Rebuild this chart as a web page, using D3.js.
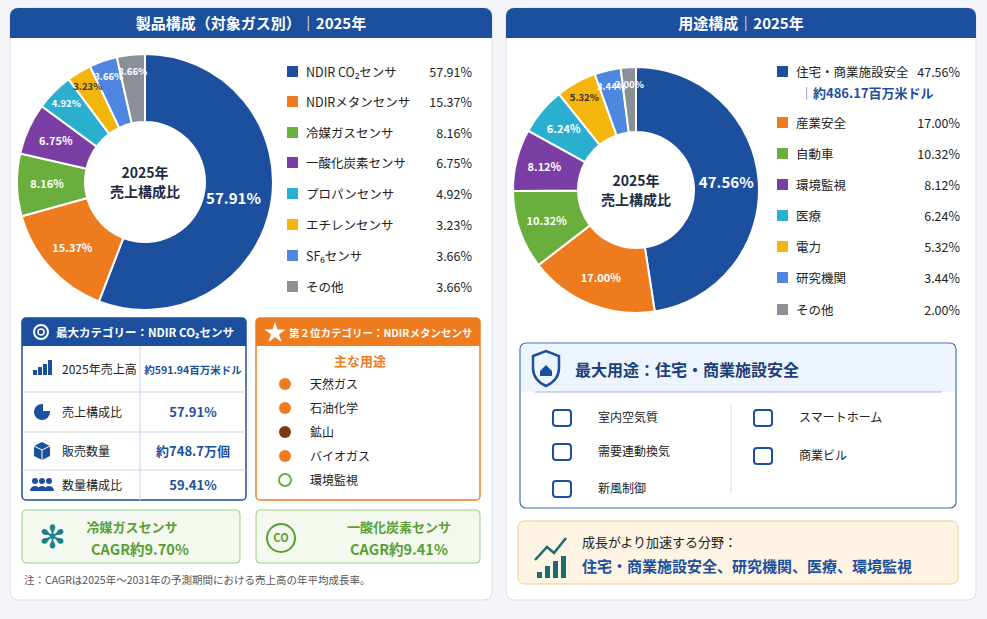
<!DOCTYPE html>
<html><head><meta charset="utf-8">
<script src="https://cdn.jsdelivr.net/npm/d3@7/dist/d3.min.js"></script>
<style>body{margin:0;background:#f3f5f8;font-family:"Noto Sans CJK JP","Noto Sans",sans-serif}</style>
</head><body><svg id="c" width="987" height="619"></svg>
<script>
const gasCats=["NDIR CO₂センサ","NDIRメタンセンサ","冷媒ガスセンサ","一酸化炭素センサ","プロパンセンサ","エチレンセンサ","SF₆センサ","その他"];
const gasVals=[57.91,15.37,8.16,6.75,4.92,3.23,3.66,3.66];
const useCats=["住宅・商業施設安全","産業安全","自動車","環境監視","医療","電力","研究機関","その他"];
const useVals=[47.56,17.00,10.32,8.12,6.24,5.32,3.44,2.00];
const colors=["#1d4f9f","#ef7b1f","#6aaf3d","#7a3ea5","#2bafd0","#f4b50c","#4f86e0","#8b9097"];
const labelDark=[false,false,false,false,false,true,false,false];

const svg=d3.select("#c");
function panel(x,w,title){
  svg.append("rect").attr("x",x).attr("y",8).attr("width",w).attr("height",592).attr("rx",8).attr("fill","#fff").attr("stroke","#d9dee6");
  svg.append("path").attr("d",`M${x},38 V16 a8,8 0 0 1 8,-8 H${x+w-8} a8,8 0 0 1 8,8 V38 Z`).attr("fill","#1d4f9f");
  svg.append("text").attr("x",x+w/2).attr("y",29).attr("text-anchor","middle").attr("fill","#fff").attr("font-size",15).attr("font-weight",700).text(title);
}
panel(10,482,"製品構成（対象ガス別）｜2025年");
panel(506,470,"用途構成｜2025年");

function donut(cx,cy,R,r,vals,center,bigOff){
  const g=svg.append("g").attr("transform",`translate(${cx},${cy})`);
  const pie=d3.pie().sort(null).value(d=>d)(vals);
  const arc=d3.arc().innerRadius(r).outerRadius(R);
  g.selectAll("path").data(pie).join("path").attr("d",arc).attr("fill",(d,i)=>colors[i]).attr("stroke","#fff").attr("stroke-width",2);
  g.selectAll("text.l").data(pie).join("text").attr("class","l")
   .attr("transform",d=>{const rr=d.data<6?R-17:(d.data>40?(R+r)/2+bigOff:(R+r)/2+4);const a=(d.startAngle+d.endAngle)/2;return `translate(${rr*Math.sin(a)},${-rr*Math.cos(a)})`;})
   .attr("text-anchor","middle").attr("dy","0.35em")
   .attr("fill",(d,i)=>labelDark[i]?"#333":"#fff").attr("font-size",d=>d.data>40?15:(d.data<6?9.5:11)).attr("font-weight",700)
   .text(d=>d.data.toFixed(2)+"%");
  g.append("circle").attr("r",r-1).attr("fill","#fff");
  center.forEach((t,i)=>g.append("text").attr("y",-4+i*19).attr("text-anchor","middle").attr("font-size",14).attr("font-weight",700).attr("fill","#1c2b45").text(t));
}
donut(145,182,128,60,gasVals,["2025年","売上構成比"],-4);
donut(636,190,123,58,useVals,["2025年","売上構成比"],0);

function legend(x,xr,ys,cats,vals){
  cats.forEach((c,i)=>{
    svg.append("rect").attr("x",x).attr("y",ys[i]-6).attr("width",11).attr("height",11).attr("fill",colors[i]);
    svg.append("text").attr("x",x+19).attr("y",ys[i]+5).attr("font-size",12.5).attr("fill","#222").text(c);
    svg.append("text").attr("x",xr).attr("y",ys[i]+5).attr("text-anchor","end").attr("font-size",12.5).attr("fill","#222").text(vals[i].toFixed(2)+"%");
  });
}
legend(287,472,[72,102,133,163,194,225,256,287],gasCats,gasVals);
legend(777,960,[72,123,154,185,216,247,278,310],useCats,useVals);
svg.append("text").attr("x",800).attr("y",98).attr("font-size",13).attr("font-weight",700).attr("fill","#1d4f9f").text("│約486.17百万米ドル");

const B="#1d4f9f";
svg.append("rect").attr("x",22).attr("y",318).attr("width",224).attr("height",182).attr("rx",4).attr("fill","#fff").attr("stroke",B).attr("stroke-width",1.5);
svg.append("path").attr("d","M22,346 V322 a4,4 0 0 1 4,-4 H242 a4,4 0 0 1 4,4 V346Z").attr("fill",B);
svg.append("circle").attr("cx",41).attr("cy",332).attr("r",7).attr("fill","none").attr("stroke","#fff").attr("stroke-width",2);
svg.append("circle").attr("cx",41).attr("cy",332).attr("r",3).attr("fill","none").attr("stroke","#fff").attr("stroke-width",1.5);
svg.append("text").attr("x",56).attr("y",337).attr("font-size",11.5).attr("font-weight",700).attr("fill","#fff").text("最大カテゴリー：NDIR CO₂センサ");
const rowY=[346,392,432,470,500];
const rowL=["2025年売上高","売上構成比","販売数量","数量構成比"];
const rowV=["約591.94百万米ドル","57.91%","約748.7万個","59.41%"];
rowL.forEach((l,i)=>{
  const my=(rowY[i]+rowY[i+1])/2;
  if(i>0) svg.append("line").attr("x1",22).attr("x2",246).attr("y1",rowY[i]).attr("y2",rowY[i]).attr("stroke","#c9d3e6");
  svg.append("text").attr("x",62).attr("y",my+5).attr("font-size",12).attr("fill","#222").text(l);
  svg.append("text").attr("x",193).attr("y",my+5).attr("text-anchor","middle").attr("font-size",i==0?10.5:13).attr("font-weight",700).attr("fill",B).text(rowV[i]);
  const ic=svg.append("g").attr("transform",`translate(42,${my})`).attr("fill",B);
  if(i==0){[0,1,2,3].forEach(k=>ic.append("rect").attr("x",-9+k*5).attr("y",6-[5,8,11,15][k]).attr("width",4).attr("height",[5,8,11,15][k]));}
  if(i==1){ic.append("circle").attr("r",8);ic.append("path").attr("d","M1,-1 V-9 A8,8 0 0 1 9,-1Z").attr("fill","#fff");}
  if(i==2){ic.append("path").attr("d","M0,-9 L8,-5 L8,5 L0,9 L-8,5 L-8,-5Z");ic.append("path").attr("d","M-8,-5 L0,-1 L8,-5 M0,-1 V9").attr("stroke","#fff").attr("fill","none");}
  if(i==3){[-7,0,7].forEach(dx=>{ic.append("circle").attr("cx",dx).attr("cy",-4).attr("r",3);ic.append("path").attr("d",`M${dx-5},6 a5,5 0 0 1 10,0Z`);});}
});
svg.append("line").attr("x1",140).attr("x2",140).attr("y1",346).attr("y2",500).attr("stroke","#c9d3e6");

const O="#ef7b1f";
svg.append("rect").attr("x",256).attr("y",318).attr("width",224).attr("height",182).attr("rx",4).attr("fill","#fff").attr("stroke",O).attr("stroke-width",1.5);
svg.append("path").attr("d","M256,346 V322 a4,4 0 0 1 4,-4 H476 a4,4 0 0 1 4,4 V346Z").attr("fill",O);
svg.append("path").attr("d",d3.symbol(d3.symbolStar,140)()).attr("transform","translate(275,333)").attr("fill","#fff");
svg.append("text").attr("x",289).attr("y",337).attr("font-size",10.5).attr("font-weight",700).attr("fill","#fff").text("第２位カテゴリー：NDIRメタンセンサ");
svg.append("text").attr("x",360).attr("y",366).attr("text-anchor","middle").attr("font-size",13).attr("font-weight",700).attr("fill",O).text("主な用途");
["天然ガス","石油化学","鉱山","バイオガス","環境監視"].forEach((t,i)=>{
  const y=384+i*24;
  svg.append("circle").attr("cx",285).attr("cy",y).attr("r",6).attr("fill",i==2?"#7a3a10":i==4?"none":O).attr("stroke",i==4?"#6aaf3d":"none").attr("stroke-width",2);
  svg.append("text").attr("x",310).attr("y",y+5).attr("font-size",12).attr("fill","#222").text(t);
});

const G="#5a9e35";
[[22,218,"冷媒ガスセンサ","CAGR約9.70%"],[256,224,"一酸化炭素センサ","CAGR約9.41%"]].forEach(([x,w,a,b],i)=>{
  svg.append("rect").attr("x",x).attr("y",510).attr("width",w).attr("height",53).attr("rx",4).attr("fill","#f3f9ee").attr("stroke","#9ccc85");
  if(i==0) svg.append("text").attr("x",x+30).attr("y",548).attr("text-anchor","middle").attr("font-size",32).attr("fill","#1a7f8a").text("✻");
  else {svg.append("circle").attr("cx",x+25).attr("cy",538).attr("r",14).attr("fill","none").attr("stroke",G).attr("stroke-width",2);
    svg.append("text").attr("x",x+25).attr("y",542).attr("text-anchor","middle").attr("font-size",11).attr("font-weight",700).attr("fill",G).text("CO");}
  svg.append("text").attr("x",x+(i?143:110)).attr("y",532).attr("text-anchor","middle").attr("font-size",13).attr("font-weight",700).attr("fill",G).text(a);
  svg.append("text").attr("x",x+(i?143:118)).attr("y",555).attr("text-anchor","middle").attr("font-size",14.5).attr("font-weight",700).attr("fill",G).text(b);
});
svg.append("text").attr("x",24).attr("y",584).attr("font-size",10.5).attr("fill","#555").text("注：CAGRは2025年～2031年の予測期間における売上高の年平均成長率。");

svg.append("rect").attr("x",520).attr("y",343).attr("width",436).attr("height",165).attr("rx",6).attr("fill","#fff").attr("stroke","#3e6fc0").attr("stroke-width",1.2);
svg.append("path").attr("d","M521,392 V349 a5,5 0 0 1 5,-5 H950 a5,5 0 0 1 5,5 V392Z").attr("fill","#eef4fc");
svg.append("line").attr("x1",535).attr("x2",942).attr("y1",392).attr("y2",392).attr("stroke","#9db6dd");
svg.append("path").attr("d","M533,356 L546,351 L559,356 V368 Q559,380 546,386 Q533,380 533,368Z").attr("fill","none").attr("stroke",B).attr("stroke-width",2.5);
svg.append("path").attr("d","M540,371 L546,365 L552,371 V376 H540Z").attr("fill",B);
svg.append("text").attr("x",575).attr("y",376).attr("font-size",16).attr("font-weight",700).attr("fill","#1c3f7a").text("最大用途：住宅・商業施設安全");
svg.append("line").attr("x1",731).attr("x2",731).attr("y1",405).attr("y2",494).attr("stroke","#ddd");
[["室内空気質",598,418],["需要連動換気",598,452],["新風制御",598,489],["スマートホーム",799,418],["商業ビル",799,456]].forEach(([t,x,y])=>{
  svg.append("text").attr("x",x).attr("y",y+4).attr("font-size",12).attr("fill","#222").text(t);
  svg.append("rect").attr("x",x-45).attr("y",y-8).attr("width",18).attr("height",16).attr("rx",3).attr("fill","none").attr("stroke",B).attr("stroke-width",2);
});
svg.append("rect").attr("x",518).attr("y",521).attr("width",440).attr("height",63).attr("rx",6).attr("fill","#fdf4e3").attr("stroke","#f0cf8a");
[[537,572,6],[545,566,12],[553,561,17],[561,556,22]].forEach(([x,y,h])=>svg.append("rect").attr("x",x).attr("y",y).attr("width",5).attr("height",h).attr("fill","#1a6b6e"));
svg.append("path").attr("d","M535,560 L547,547 L554,553 L566,538").attr("fill","none").attr("stroke","#1a6b6e").attr("stroke-width",2.5);
svg.append("text").attr("x",582).attr("y",547).attr("font-size",13).attr("fill","#222").text("成長がより加速する分野：");
svg.append("text").attr("x",582).attr("y",572).attr("font-size",15).attr("font-weight",700).attr("fill","#1d4f9f").text("住宅・商業施設安全、研究機関、医療、環境監視");
</script></body></html>
